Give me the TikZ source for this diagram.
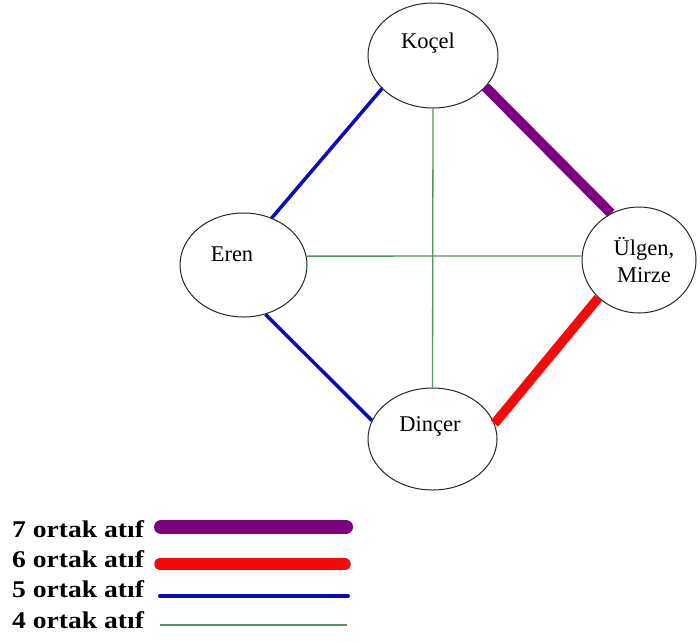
\documentclass[tikz,border=0pt]{standalone}
\usepackage{fontspec}
\setmainfont{Liberation Serif}
\newfontfamily\legendfont[FakeStretch=1.15]{Liberation Serif}
\usetikzlibrary{shapes.geometric}
\definecolor{cpurple}{RGB}{125,0,128}
\definecolor{cred}{RGB}{245,10,10}
\definecolor{cblue}{RGB}{10,10,190}
\definecolor{cgreen}{RGB}{80,150,95}
\begin{document}
\begin{tikzpicture}[x=1pt,y=-1pt,
  ell/.style={ellipse, draw=black!85, line width=1pt, inner sep=0pt},
  lbl/.style={font=\fontsize{22.5}{27}\selectfont, align=center, inner sep=0pt},
  leg/.style={font=\legendfont\bfseries\fontsize{24}{28}\selectfont, anchor=base west, inner sep=0pt},
  l7/.style={cpurple, line width=10pt},
  l6/.style={cred, line width=9.5pt},
  l5/.style={cblue, line width=3.5pt},
  l4/.style={cgreen, line width=1.3pt}]
\useasboundingbox (0,0) rectangle (700,641);
\fill[white] (0,0) rectangle (700,641);

% ellipses
\node[ell, minimum width=130pt, minimum height=105pt] (kocel) at (433,55.5) {};
\node[ell, minimum width=127pt, minimum height=104pt] (eren) at (243.5,265) {};
\node[ell, minimum width=114pt, minimum height=106pt] (ulgen) at (639,260) {};
\node[ell, minimum width=129pt, minimum height=102pt] (dincer) at (432.5,439) {};

% labels
\node[lbl] (kocelt) at (428,43) {Koçel};
\node[lbl] (erent) at (232,254) {Eren};
\node[lbl] (ulgent) at (644,260) {Ülgen,\\Mirze};
\node[lbl] (dincert) at (430,426) {Dinçer};

% connectors
\draw[l4] (kocel.south) -- (dincer.north);
\draw[l4] (eren.8) -- (ulgen.176);
\draw[l5, line cap=round] (kocel.213) -- (eren.59);
\draw[l5] (eren.294) -- (dincer.163);
\draw[l7] (kocel.329) -- (ulgen.121);
\draw[l6] (ulgen.223) -- (dincer.14);

% legend
\node[leg] (t7) at (12,537) {7 ortak atıf};
\node[leg] (t6) at (12,567) {6 ortak atıf};
\node[leg] (t5) at (12,597) {5 ortak atıf};
\node[leg] (t4) at (12,628) {4 ortak atıf};
\coordinate (a7) at (161,527); \coordinate (b7) at (346,527);
\coordinate (a6) at (160,564); \coordinate (b6) at (345,564);
\coordinate (a5) at (160,596); \coordinate (b5) at (348,596);
\coordinate (a4) at (160,625); \coordinate (b4) at (347,625);
\draw[cpurple, line width=14pt, line cap=round] (a7) -- (b7);
\draw[cred, line width=11.5pt, line cap=round] (a6) -- (b6);
\draw[cblue, line width=4pt, line cap=round] (a5) -- (b5);
\draw[l4] (a4) -- (b4);
\end{tikzpicture}
\end{document}
